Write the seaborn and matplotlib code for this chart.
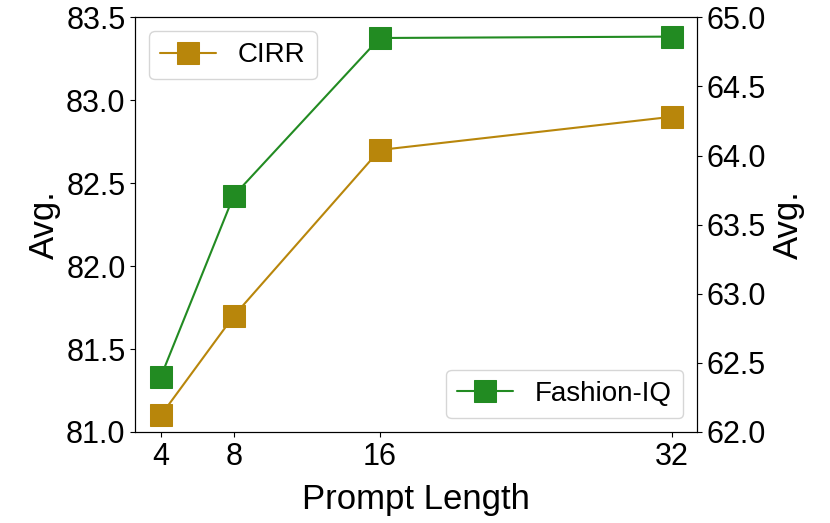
import seaborn as sns
import pandas as pd
import matplotlib.pyplot as plt

prompt_length = [4, 8, 16, 32]
cirr_avg = [81.10, 81.70, 82.70, 82.90]
fashion_iq_avg = [62.40, 63.71, 64.85, 64.86]

cirr = pd.DataFrame({"Prompt Length": prompt_length, "Avg.": cirr_avg})
fiq = pd.DataFrame({"Prompt Length": prompt_length, "Avg.": fashion_iq_avg})

sns.set_style("ticks")
plt.rcParams["font.family"] = ["Liberation Sans", "DejaVu Sans"]
plt.rcParams.update({
    "text.color": "black",
    "axes.labelcolor": "black",
    "xtick.color": "black",
    "ytick.color": "black",
    "axes.edgecolor": "black",
})

fig, ax1 = plt.subplots(figsize=(8.3, 5.23), dpi=100)
fig.subplots_adjust(left=0.163, right=0.840, top=0.967, bottom=0.174)
ax2 = ax1.twinx()

sns.lineplot(data=cirr, x="Prompt Length", y="Avg.", ax=ax1, color="darkgoldenrod",
             marker="s", markersize=16, markeredgecolor="darkgoldenrod", label="CIRR")
sns.lineplot(data=fiq, x="Prompt Length", y="Avg.", ax=ax2, color="forestgreen",
             marker="s", markersize=16, markeredgecolor="forestgreen", label="Fashion-IQ")

ax1.set_ylim(81.0, 83.5)
ax2.set_ylim(62.0, 65.0)
ax1.set_xticks(prompt_length)

for ax in (ax1, ax2):
    ax.tick_params(labelsize=22)
    ax.set_ylabel("Avg.", fontsize=25)
    for s in ax.spines.values():
        s.set_visible(True)
        s.set_color("black")
ax1.set_xlabel("Prompt Length", fontsize=25, labelpad=8)

ax1.legend(loc="upper left", fontsize=20)
ax2.legend(loc="lower right", fontsize=20)

fig.savefig("out.png", dpi=100)
